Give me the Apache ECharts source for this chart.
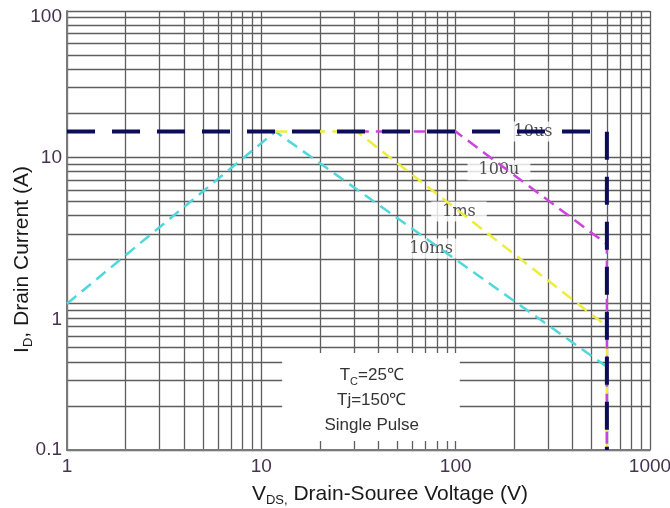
<!DOCTYPE html>
<html>
<head>
<meta charset="utf-8">
<script src="https://cdn.jsdelivr.net/npm/echarts@6/dist/echarts.min.js"></script>
<style>
  html, body { margin: 0; padding: 0; background: #fff; }
  #chart { width: 670px; height: 508px; }
</style>
</head>
<body>
<div id="chart"></div>
<script>
// axis ticks
const xTicks = [1, 10, 100, 1000];
const yTicks = [0.1, 1, 10, 100];

// SOA limit curves [VDS, ID]
const line10us = [[1, 15], [600, 15], [600, 0.1]];
const line100us = [[31, 15], [100, 15], [600, 2.55], [600, 0.1]];
const line1ms = [[11.8, 15], [31, 15], [600, 0.7], [600, 0.1]];
const line10ms = [[1, 1.0], [11.8, 15], [600, 0.37], [600, 0.1]];

// curve names and where their labels sit
const curveNames = ["10us", "100u", "1ms", "10ms"];
const curveLabelPos = [[250, 15], [167, 8.15], [104, 4.27], [74.7, 2.38]];

// conditions note
const notePos = [37, 0.22];
const noteArea = [[12.8, 0.46], [105, 0.115]];

const gridColor = "#5e5e5e";
const tickColor = "#45344f";

const chart = echarts.init(document.getElementById("chart"));

function dashed(name, data, color, width, dash, z) {
  return {
    name: name,
    type: "line",
    data: data,
    symbol: "none",
    z: z,
    lineStyle: { color: color, width: width, type: dash },
    silent: true,
  };
}

const option = {
  backgroundColor: "#ffffff",
  animation: false,
  grid: { left: 67, right: 20, top: 11, bottom: 58, containLabel: false, outerBoundsMode: "none" },
  xAxis: {
    type: "log",
    logBase: 10,
    min: xTicks[0],
    max: xTicks[xTicks.length - 1],
    splitNumber: 3,
    axisLine: { show: true, lineStyle: { color: "#7a7a7a", width: 2 } },
    axisTick: { show: false },
    minorTick: { show: false, splitNumber: 9 },
    splitLine: { show: true, lineStyle: { color: gridColor, width: 1.3 } },
    minorSplitLine: { show: true, lineStyle: { color: gridColor, width: 1.3 } },
    axisLabel: {
      color: tickColor,
      fontSize: 19,
      fontFamily: "Liberation Sans",
      margin: 7,
      formatter: (v) => String(v),
    },
    name: "{a|V}{sub|DS,}{a| Drain-Souree Voltage (V)}",
    nameLocation: "middle",
    nameGap: 32,
    nameTextStyle: {
      padding: [0, 0, 0, 63],
      rich: {
        a: { fontSize: 21, fontFamily: "Liberation Sans", color: "#1a1a1a", lineHeight: 25 },
        sub: { fontSize: 13, fontFamily: "Liberation Sans", color: "#1a1a1a", lineHeight: 13, verticalAlign: "bottom" },
      },
    },
  },
  yAxis: {
    type: "log",
    logBase: 10,
    min: yTicks[0],
    max: yTicks[yTicks.length - 1],
    splitNumber: 3,
    axisLine: { show: true, lineStyle: { color: "#7a7a7a", width: 2 } },
    axisTick: { show: false },
    minorTick: { show: false, splitNumber: 9 },
    splitLine: { show: true, lineStyle: { color: gridColor, width: 1.3 } },
    minorSplitLine: { show: true, lineStyle: { color: gridColor, width: 1.3 } },
    axisLabel: {
      color: tickColor,
      fontSize: 19,
      fontFamily: "Liberation Sans",
      margin: 5,
      formatter: function (v) {
        if (v === 1) return "{one|1}";
        if (v === 100) return "{top|100}";
        return String(v);
      },
      rich: {
        one: { fontSize: 19, fontFamily: "Liberation Sans", color: tickColor, padding: [32, 0, 0, 0] },
        top: { fontSize: 19, fontFamily: "Liberation Sans", color: tickColor, padding: [12, 0, 0, 0] },
      },
    },
    name: "{a|I}{sub|D}{a|, Drain Current (A)}",
    nameLocation: "middle",
    nameMoveOverlap: false,
    nameGap: 32,
    nameRotate: 90,
    nameTextStyle: {
      padding: [0, 58, 0, 0],
      rich: {
        a: { fontSize: 21, fontFamily: "Liberation Sans", color: "#1a1a1a", lineHeight: 25 },
        sub: { fontSize: 13, fontFamily: "Liberation Sans", color: "#1a1a1a", lineHeight: 13, verticalAlign: "bottom" },
      },
    },
  },
  series: [
    {
      // labels + note box, above the grid but below the curves
      type: "scatter",
      z: 1,
      symbolSize: 0,
      silent: true,
      data: curveLabelPos.map((p, i) => ({ value: p, name: curveNames[i] })),
      label: {
        show: true,
        position: "inside",
        formatter: (p) => p.name,
        fontFamily: "DejaVu Serif",
        fontSize: 16,
        color: "#222",
        backgroundColor: "#ffffff",
        padding: [2, 11],
      },
      markArea: {
        silent: true,
        itemStyle: { color: "#ffffff", opacity: 1 },
        data: [[{ coord: noteArea[0] }, { coord: noteArea[1] }]],
      },
      markPoint: {
        silent: true,
        symbolSize: 0,
        data: [{ coord: notePos }],
        label: {
          show: true,
          position: "inside",
          formatter: "{a|T}{s|C}{a|=25℃}\n{a|Tj=150℃}\n{a|Single Pulse}",
          rich: {
            a: { fontSize: 17, fontFamily: "Liberation Sans", color: "#333", lineHeight: 25, align: "center" },
            s: { fontSize: 11, fontFamily: "Liberation Sans", color: "#333", lineHeight: 11, verticalAlign: "bottom" },
          },
        },
      },
    },
    dashed("10ms", line10ms, "#4fd8dc", 2.5, [12, 7], 3),
    dashed("1ms", line1ms, "#eded3c", 2.5, [12, 7], 3),
    dashed("100us", line100us, "#cc44dd", 2.5, [12, 7], 3),
    dashed("10us", line10us, "#0c0c5a", 4, [28, 17], 4),
  ],
};

chart.setOption(option);
</script>
</body>
</html>
